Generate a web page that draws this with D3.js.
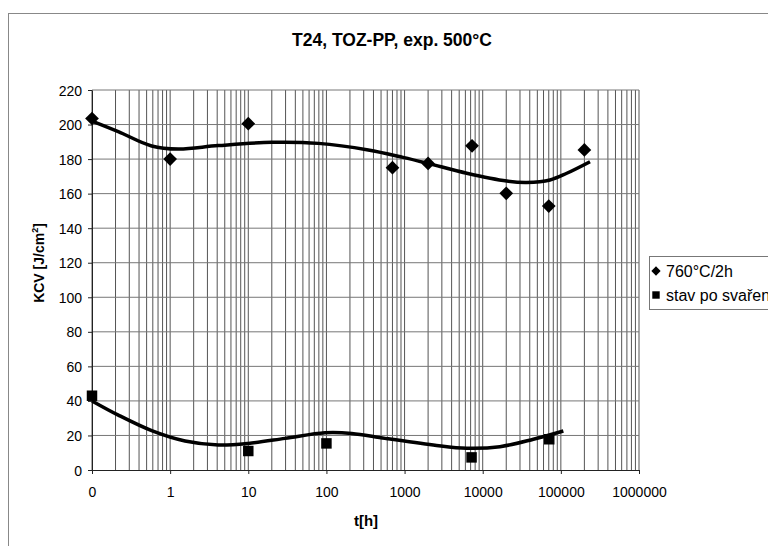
<!DOCTYPE html>
<html>
<head>
<meta charset="utf-8">
<script src="https://cdn.jsdelivr.net/npm/d3@7"></script>
<style>
html,body{margin:0;padding:0;background:#fff;}
svg{display:block;font-family:"Liberation Sans",Arial,sans-serif;}
</style>
</head>
<body>
<svg id="chart" width="768" height="546"></svg>
<script>
// ---- data ----
const xTickValues = [0.1, 1, 10, 100, 1000, 10000, 100000, 1000000];
const xTickLabels = ["0", "1", "10", "100", "1000", "10000", "100000", "1000000"];
const yTickValues = [0, 20, 40, 60, 80, 100, 120, 140, 160, 180, 200, 220];

const seriesNames = ["760°C/2h", "stav po svařen"];

// 760°C/2h (t = 0 plotted at 0.1 on the log axis)
const s1T = [0.1, 1, 10, 700, 2000, 7300, 20000, 70000, 200000];
const s1V = [203.5, 180, 200.5, 175, 177.5, 187.7, 160.2, 152.8, 185.3];

// stav po svaření
const s2T = [0.1, 10, 100, 7200, 71000];
const s2V = [43, 11, 15.4, 7.3, 17.8];

// trend lines
const tr1T = [0.1, 0.217, 0.58, 1.27, 4.13, 20, 79, 343, 955, 2000, 6240, 20300, 36600, 72600, 119000, 236000];
const tr1V = [202, 195.9, 187.6, 185.8, 187.8, 189.7, 189.1, 185.3, 181, 177.5, 171.8, 167.3, 166.5, 167.9, 171.8, 178.5];

const tr2T = [0.1, 0.217, 0.58, 1.55, 4.13, 10, 29.5, 96, 211, 562, 2330, 6240, 16600, 44500, 107600];
const tr2V = [40, 31.8, 22.8, 16.8, 14.5, 15.4, 18.3, 21.6, 21.2, 18.3, 14.5, 12.6, 13.5, 17.8, 22.6];

// ---- chart ----
const svg = d3.select("#chart");
const L = 92, R = 639, T = 90, B = 470;
const x = d3.scaleLog().domain([0.1, 1000000]).range([L, R]);
const y = d3.scaleLinear().domain([0, 220]).range([B, T]);

// outer frame
svg.append("rect").attr("x", 8.5).attr("y", 13.5).attr("width", 800).attr("height", 600)
  .attr("fill", "none").attr("stroke", "#888").attr("stroke-width", 1);

// title
svg.append("text").attr("x", 392).attr("y", 46).attr("text-anchor", "middle")
  .attr("font-weight", "bold").attr("font-size", 17.5).text("T24, TOZ-PP, exp. 500°C");

// grid
const g = svg.append("g");
g.selectAll("line.vg").data(x.ticks()).join("line").attr("class", "vg")
  .attr("x1", d => x(d)).attr("x2", d => x(d)).attr("y1", T).attr("y2", B)
  .attr("stroke", "#555").attr("stroke-width", 1);
g.selectAll("line.hg").data(yTickValues.filter(v => v > 0)).join("line").attr("class", "hg")
  .attr("x1", L).attr("x2", R).attr("y1", d => y(d)).attr("y2", d => y(d))
  .attr("stroke", "#777").attr("stroke-width", 1);

// axes
const xAxis = d3.axisBottom(x).tickValues(xTickValues)
  .tickFormat((d, i) => xTickLabels[i]).tickSize(4).tickSizeOuter(0);
const xg = svg.append("g").attr("transform", `translate(0,${B})`).call(xAxis);
xg.select(".domain").attr("stroke", "#222");
xg.selectAll(".tick line").attr("stroke", "#222");
xg.selectAll(".tick text").attr("font-size", 14).attr("font-family", "Liberation Sans, Arial, sans-serif")
  .attr("fill", "#000").attr("dy", "0").attr("y", 27);

const yAxis = d3.axisLeft(y).tickValues(yTickValues).tickSize(4).tickSizeOuter(0);
const yg = svg.append("g").attr("transform", `translate(${L},0)`).call(yAxis);
yg.select(".domain").attr("stroke", "#222");
yg.selectAll(".tick line").attr("stroke", "#222");
yg.selectAll(".tick text").attr("font-size", 14).attr("font-family", "Liberation Sans, Arial, sans-serif")
  .attr("fill", "#000").attr("x", -10).attr("dy", "0.36em");

// axis titles
svg.append("text").attr("x", 366).attr("y", 526).attr("text-anchor", "middle")
  .attr("font-weight", "bold").attr("font-size", 15).text("t[h]");
const yl = svg.append("text").attr("transform", "translate(44,263) rotate(-90)")
  .attr("text-anchor", "middle").attr("font-weight", "bold").attr("font-size", 14);
yl.append("tspan").text("KCV  [J/cm");
yl.append("tspan").attr("font-size", 9).attr("dy", -6).text("2");
yl.append("tspan").attr("dy", 6).text("]");

// trend lines
const line = d3.line().x(d => x(d[0])).y(d => y(d[1])).curve(d3.curveCatmullRom.alpha(0.5));
svg.append("path").datum(d3.zip(tr1T, tr1V)).attr("d", line)
  .attr("fill", "none").attr("stroke", "#000").attr("stroke-width", 3.5);
svg.append("path").datum(d3.zip(tr2T, tr2V)).attr("d", line)
  .attr("fill", "none").attr("stroke", "#000").attr("stroke-width", 3.5);

// markers
const diamond = d3.symbol().type(d3.symbolDiamond2).size(120);
const square = d3.symbol().type(d3.symbolSquare2).size(140);
svg.append("g").selectAll("path").data(d3.zip(s1T, s1V)).join("path")
  .attr("transform", d => `translate(${x(d[0])},${y(d[1])})`).attr("d", diamond).attr("fill", "#000");
svg.append("g").selectAll("path").data(d3.zip(s2T, s2V)).join("path")
  .attr("transform", d => `translate(${x(d[0])},${y(d[1])})`).attr("d", square).attr("fill", "#000");

// legend
const lg = svg.append("g");
lg.append("rect").attr("x", 649.5).attr("y", 256.5).attr("width", 200).attr("height", 53)
  .attr("fill", "#fff").attr("stroke", "#777");
lg.append("path").attr("transform", "translate(656,271)").attr("d", d3.symbol().type(d3.symbolDiamond2).size(55)).attr("fill", "#000");
lg.append("path").attr("transform", "translate(656,295)").attr("d", d3.symbol().type(d3.symbolSquare2).size(70)).attr("fill", "#000");
lg.append("text").attr("x", 666).attr("y", 277).attr("font-size", 16).text(seriesNames[0]);
lg.append("text").attr("x", 666).attr("y", 301).attr("font-size", 16).text(seriesNames[1]);
</script>
</body>
</html>
